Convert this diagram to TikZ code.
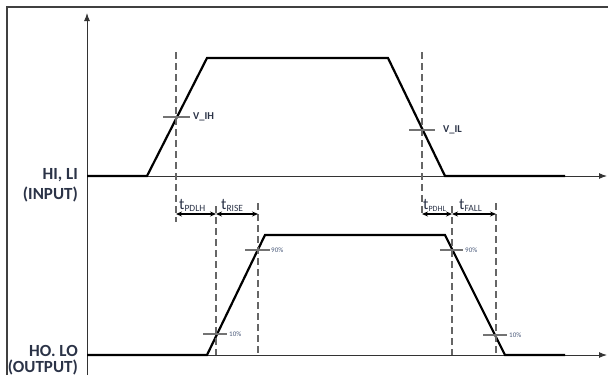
\documentclass[tikz,border=0pt]{standalone}
\usepackage{fontspec}
\setmainfont{Carlito}
\usetikzlibrary{arrows.meta}
\definecolor{labc}{HTML}{2B3347}
\definecolor{pctc}{HTML}{4A5A7A}
\begin{document}
\begin{tikzpicture}[x=1pt,y=-1pt,
  wave/.style={line width=2.2pt,black,line join=miter},
  axisline/.style={line width=1pt,black!80,-{Latex[length=8pt,width=6pt]}},
  guide/.style={line width=1.9pt,black!60,dash pattern=on 7pt off 4pt},
  tickline/.style={line width=1.3pt,black!55},
  dimline/.style={line width=1.2pt,black,{Stealth[length=6pt,width=5pt]}-{Stealth[length=6pt,width=5pt]}},
  sidelbl/.style={font=\fontsize{17}{19}\selectfont\bfseries,text=labc,align=right,inner sep=0pt,anchor=east},
  vlbl/.style={font=\fontsize{10.5}{12}\selectfont\bfseries,text=labc,inner sep=0pt,anchor=west},
  pct/.style={font=\fontsize{7}{8}\selectfont,text=pctc,inner sep=0pt,anchor=west},
  tlbl/.style={font=\fontsize{16}{18}\selectfont,text=labc,inner sep=0pt,anchor=base west}]
\useasboundingbox (0,0) rectangle (608,375);
% frame
\coordinate (fbl) at (7,375); \coordinate (ftl) at (7,7); \coordinate (ftr) at (608,7);
\draw[line width=1.5pt,black!75] (fbl) -- (ftl) -- (ftr);
% axes
\coordinate (ybot) at (87,375); \coordinate (ytop) at (87,13);
\draw[axisline] (ybot) -- (ytop);
\coordinate (i0) at (87,176); \coordinate (iend) at (607,176);
\draw[axisline] (i0) -- (iend);
\coordinate (o0) at (87,355); \coordinate (oend) at (607,355);
\draw[axisline] (o0) -- (oend);
% input waveform
\coordinate (ia) at (147,176); \coordinate (ib) at (207,58);
\coordinate (ic) at (388,58); \coordinate (id) at (445,176); \coordinate (ie) at (565,176);
\draw[wave] (i0) -- (ia) -- (ib) -- (ic) -- (id) -- (ie);
% output waveform
\coordinate (oa) at (207,355); \coordinate (ob) at (265,235);
\coordinate (oc) at (445,235); \coordinate (od) at (505,355); \coordinate (oe) at (565,355);
\draw[wave] (o0) -- (oa) -- (ob) -- (oc) -- (od) -- (oe);
% guides
\coordinate (g1t) at (176,52); \coordinate (g1b) at (176,222);
\coordinate (g2t) at (422,52); \coordinate (g2b) at (422,216);
\coordinate (g3t) at (216,206); \coordinate (g3b) at (216,355);
\coordinate (g4t) at (258,203); \coordinate (g4b) at (258,355);
\coordinate (g5t) at (452,206); \coordinate (g5b) at (452,355);
\coordinate (g6t) at (496,203); \coordinate (g6b) at (496,355);
\draw[guide] (g1t) -- (g1b);
\draw[guide] (g2t) -- (g2b);
\draw[guide] (g3t) -- (g3b);
\draw[guide] (g4t) -- (g4b);
\draw[guide] (g5t) -- (g5b);
\draw[guide] (g6t) -- (g6b);
% threshold ticks
\coordinate (vih1) at (163,117); \coordinate (vih2) at (190,117);
\draw[tickline] (vih1) -- (vih2);
\node[vlbl] (vih) at (193,117) {V\_IH};
\coordinate (vil1) at (409,130); \coordinate (vil2) at (435,130);
\draw[tickline] (vil1) -- (vil2);
\node[vlbl] (vil) at (443,130) {V\_IL};
\coordinate (p1a) at (245,250); \coordinate (p1b) at (270,250);
\draw[tickline] (p1a) -- (p1b);
\node[pct] (p90a) at (271,250) {90\%};
\coordinate (p2a) at (440,250); \coordinate (p2b) at (463,250);
\draw[tickline] (p2a) -- (p2b);
\node[pct] (p90b) at (465,250) {90\%};
\coordinate (p3a) at (203,334); \coordinate (p3b) at (227,334);
\draw[tickline] (p3a) -- (p3b);
\node[pct] (p10a) at (229,334) {10\%};
\coordinate (p4a) at (483,335); \coordinate (p4b) at (507,335);
\draw[tickline] (p4a) -- (p4b);
\node[pct] (p10b) at (509,335) {10\%};
% dimension arrows
\coordinate (d1) at (176,214); \coordinate (d2) at (216,214); \coordinate (d3) at (258,214);
\coordinate (d4) at (422,214); \coordinate (d5) at (452,214); \coordinate (d6) at (496,214);
\draw[dimline] (d1) -- (d2);
\draw[dimline] (d2) -- (d3);
\draw[dimline] (d4) -- (d5);
\draw[dimline] (d5) -- (d6);
\node[tlbl] (tpdlh) at (179,209) {t\raisebox{-2.5pt}{\fontsize{9.5}{10}\selectfont PDLH}};
\node[tlbl] (trise) at (221,209) {t\raisebox{-2.5pt}{\fontsize{9.5}{10}\selectfont RISE}};
\node[tlbl] (tpdhl) at (423,209) {t\raisebox{-2.5pt}{\fontsize{8}{9}\selectfont PDHL}};
\node[tlbl] (tfall) at (459,209) {t\raisebox{-2.5pt}{\fontsize{9.5}{10}\selectfont FALL}};
% side labels
\node[sidelbl] (hil) at (78,175) {HI, LI};
\node[sidelbl] (inp) at (78,194) {(INPUT)};
\node[sidelbl] (hol) at (78,351) {HO. LO};
\node[sidelbl] (outp) at (78,367) {(OUTPUT)};
\end{tikzpicture}
\end{document}
